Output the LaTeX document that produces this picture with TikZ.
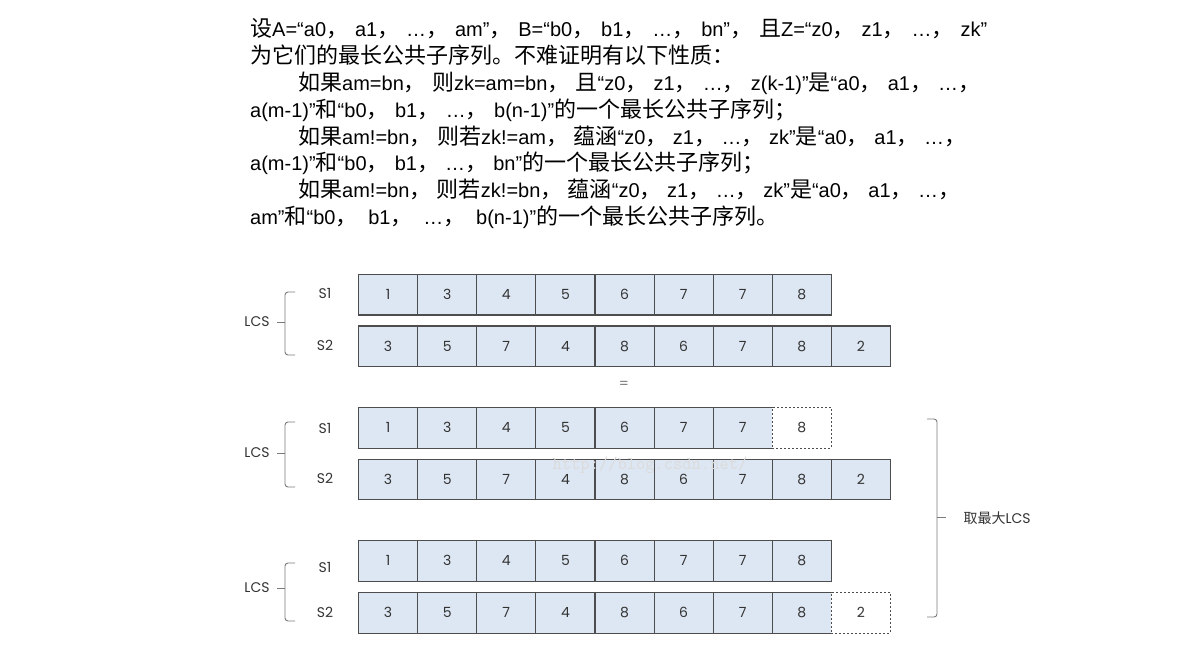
\documentclass[tikz,border=0pt]{standalone}
\usepackage{fontspec}
\setmainfont{Liberation Sans}
\newfontfamily\cjk{Noto Sans CJK SC}
\newfontfamily\numfont{Poppins}
\newcommand{\zh}[1]{{\cjk\fontsize{22}{22}\selectfont #1}}
\newcommand{\cm}{\zh{，}\hskip 2pt plus 1fil}

\definecolor{cellblue}{HTML}{DDE7F3}
\definecolor{cellline}{HTML}{4D4D4D}
\definecolor{numgray}{HTML}{333333}
\definecolor{bracegray}{HTML}{7A7A7A}

\tikzset{
	cell/.style={draw=cellline, fill=cellblue, line width=1.1pt, minimum width=59.1pt, minimum height=40.5pt, inner sep=0pt, anchor=north west, font=\numfont\fontsize{14}{14}\selectfont, text=numgray},
	emptycell/.style={cell, fill=white, dash pattern=on 2pt off 2pt},
	lbl/.style={font=\numfont\fontsize{14}{14}\selectfont, text=numgray},
	brace/.style={draw=bracegray, line width=0.9pt, rounded corners=3pt},
	txt/.style={anchor=base west, inner sep=0pt, font=\fontsize{20}{20}\selectfont},
}

\begin{document}
\begin{tikzpicture}[x=1pt, y=-1pt]
	\def \cw{59.1}
	\def \xs{358}
	\useasboundingbox (0,0) rectangle (1184,652);
	
	% text above the picture
	\node[txt] (l1) at (250,37) {\hbox to 737pt{\zh{设}A=“a0\cm a1\cm …\cm am”\cm B=“b0\cm b1\cm …\cm bn”\cm\zh{且}Z=“z0\cm z1\cm …\cm zk”}};
	\node[txt] (l2) at (250,64) {\zh{为它们的最长公共子序列。不难证明有以下性质：}};
	\node[txt] (l3) at (298,91) {\hbox to 682pt{\zh{如果}am=bn\cm\zh{则}zk=am=bn\cm\zh{且}“z0\cm z1\cm …\cm z(k-1)”\zh{是}“a0\cm a1\cm …\zh{，}}};
	\node[txt] (l4) at (250,118) {\hbox to 546pt{a(m-1)”\zh{和}“b0\cm b1\cm …\cm b(n-1)”\zh{的一个最长公共子序列；}}};
	\node[txt] (l5) at (298,145) {\hbox to 668pt{\zh{如果}am!=bn\cm\zh{则若}zk!=am\cm\zh{蕴涵}“z0\cm z1\cm …\cm zk”\zh{是}“a0\cm a1\cm …\zh{，}}};
	\node[txt] (l6) at (250,171) {\hbox to 514pt{a(m-1)”\zh{和}“b0\cm b1\cm …\cm bn”\zh{的一个最长公共子序列；}}};
	\node[txt] (l7) at (298,198) {\hbox to 662pt{\zh{如果}am!=bn\cm\zh{则若}zk!=bn\cm\zh{蕴涵}“z0\cm z1\cm …\cm zk”\zh{是}“a0\cm a1\cm …\zh{，}}};
	\node[txt] (l8) at (250,225) {\hbox to 528pt{am”\zh{和}“b0\cm b1\cm …\cm b(n-1)”\zh{的一个最长公共子序列。}}};
	
	% first pair
	\foreach \v [count=\i] in {1,3,4,5,6,7,7,8}
		\node[cell] (a1-\i) at ({\xs+(\i-1)*\cw},274) {\v};
	\foreach \v [count=\i] in {3,5,7,4,8,6,7,8,2}
		\node[cell] (a2-\i) at ({\xs+(\i-1)*\cw},325.5) {\v};
	\node[lbl] (sa1) at (325,293) {S1};
	\node[lbl] (sa2) at (325,345) {S2};
	\node[lbl] (lcsa) at (257,322) {LCS};
	\draw[brace] (295,292) -- (285,292) -- (285,355) -- (295,355);
	\draw[bracegray, line width=0.9pt] (285,322) -- (277,322);
	
	\node[lbl, text=bracegray] (eq) at (624,385) {=};
	
	% second pair
	\foreach \v [count=\i] in {1,3,4,5,6,7,7}
		\node[cell] (b1-\i) at ({\xs+(\i-1)*\cw},407) {\v};
	\node[emptycell] (b1-8) at ({\xs+7*\cw},407) {8};
	\foreach \v [count=\i] in {3,5,7,4,8,6,7,8,2}
		\node[cell] (b2-\i) at ({\xs+(\i-1)*\cw},458.5) {\v};
	\node[text=black!14, font=\ttfamily\fontsize{18}{18}\selectfont] (wm) at (650,465) {http://blog.csdn.net/};
	\node[lbl] (sb1) at (325,428) {S1};
	\node[lbl] (sb2) at (325,478) {S2};
	\node[lbl] (lcsb) at (257,453) {LCS};
	\draw[brace] (295,422) -- (285,422) -- (285,487) -- (295,487);
	\draw[bracegray, line width=0.9pt] (285,453) -- (277,453);
	
	% third pair
	\foreach \v [count=\i] in {1,3,4,5,6,7,7,8}
		\node[cell] (c1-\i) at ({\xs+(\i-1)*\cw},540) {\v};
	\foreach \v [count=\i] in {3,5,7,4,8,6,7,8}
		\node[cell] (c2-\i) at ({\xs+(\i-1)*\cw},592) {\v};
	\node[emptycell] (c2-9) at ({\xs+8*\cw},592) {2};
	\node[lbl] (sc1) at (325,567) {S1};
	\node[lbl] (sc2) at (325,612) {S2};
	\node[lbl] (lcsc) at (257,588) {LCS};
	\draw[brace] (295,563) -- (285,563) -- (285,621) -- (295,621);
	\draw[bracegray, line width=0.9pt] (285,588) -- (277,588);
	
	% right brace
	\draw[brace] (927,419) -- (937,419) -- (937,617) -- (927,617);
	\draw[bracegray, line width=0.9pt] (937,517) -- (946,517);
	\node[lbl, anchor=west, font=\fontsize{14}{14}\selectfont] (best) at (960,518) {{\cjk 取最大}\numfont LCS};
	
\end{tikzpicture}
\end{document}
